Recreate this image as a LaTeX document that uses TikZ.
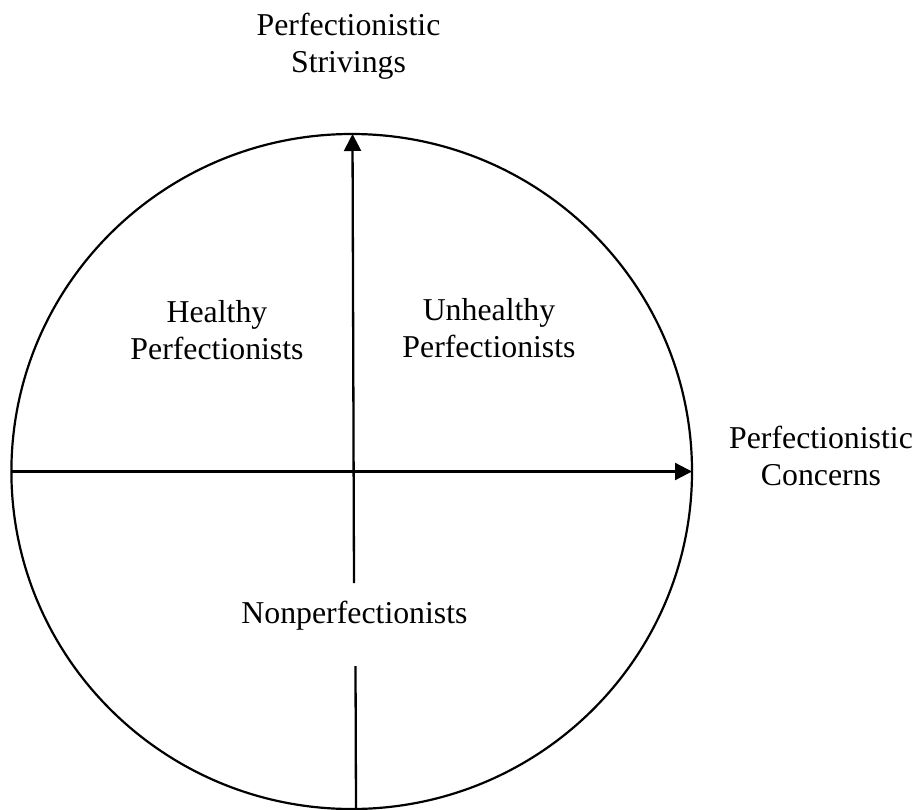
\documentclass[tikz,border=0pt]{standalone}
\usepackage{fontspec}
\setmainfont{Liberation Serif}
\usetikzlibrary{arrows.meta,shapes.geometric,calc}
\begin{document}
\begin{tikzpicture}[x=1pt,y=-1pt,
  axis/.style={line width=2.3pt},
  axisarrow/.style={line width=2.3pt,-{Triangle[length=17pt,width=17pt]}},
  lbl/.style={align=center,anchor=base,inner sep=0pt,font=\fontsize{31.8}{37}\selectfont}]
\useasboundingbox (0,0) rectangle (920,810);
\node[draw,ellipse,line width=2.2pt,inner sep=0pt,outer sep=0pt,
      minimum width=680.6pt,minimum height=675pt] (circ) at (351.7,471.5) {};
\coordinate (T) at (352.5,134);
\coordinate (B1) at (354,583);
\coordinate (B2) at (355.5,666);
\coordinate (B) at (356,809);
\draw[axisarrow] (circ.west) -- (circ.east);
\draw[axisarrow] (B1) -- (T);
\draw[axis] (B2) -- (B);
\node[lbl] (striv) at (348.5,73) {Perfectionistic\\Strivings};
\node[lbl] (conc) at (821,485) {Perfectionistic\\Concerns};
\node[lbl] (healthy) at (217,359) {Healthy\\Perfectionists};
\node[lbl] (unhealthy) at (489,357) {Unhealthy\\Perfectionists};
\node[lbl] (nonp) at (354.5,623) {Nonperfectionists};
\end{tikzpicture}
\end{document}
